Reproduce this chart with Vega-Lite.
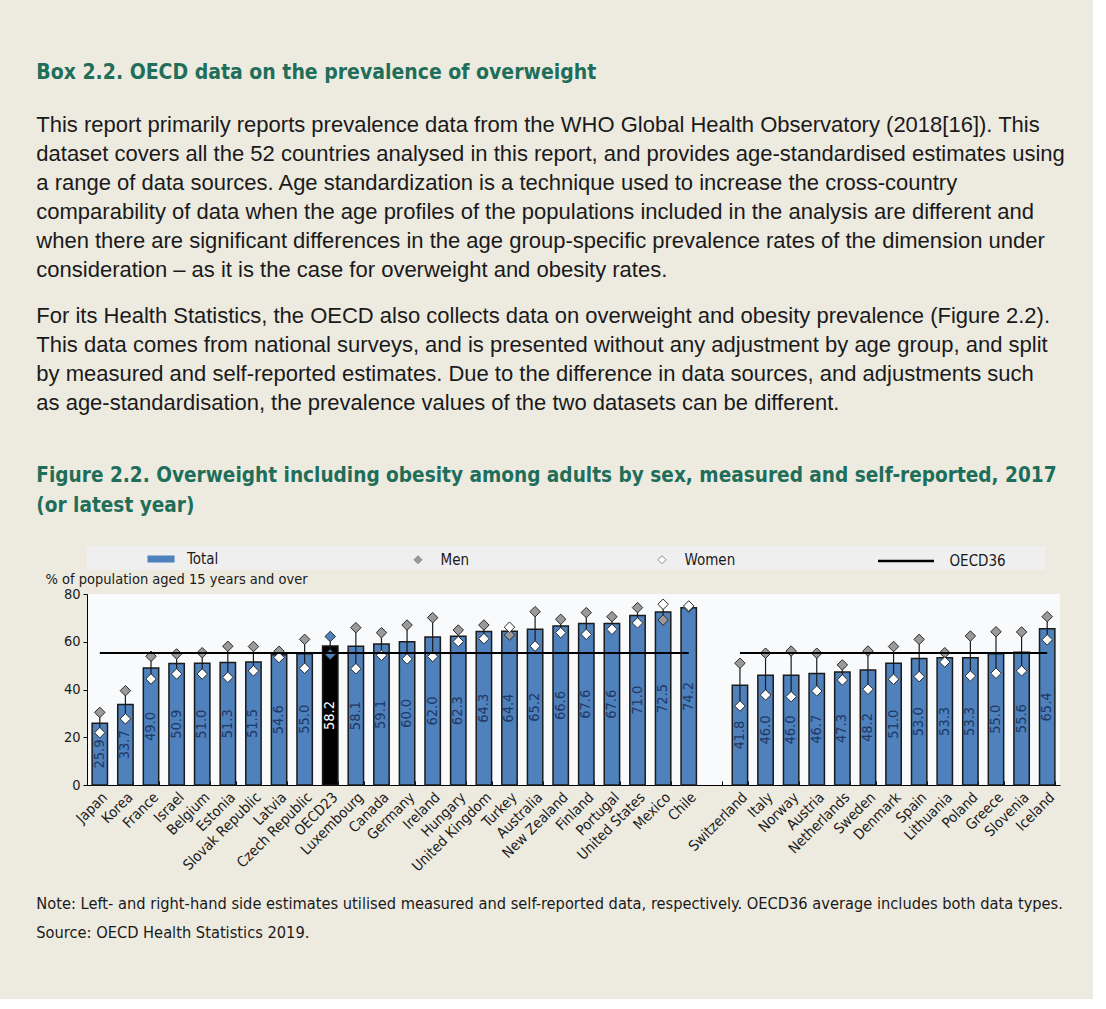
{
  "$schema": "https://vega.github.io/schema/vega-lite/v6.json",
  "background": "#edeae0",
  "padding": {"left": 36, "top": 61, "right": 28, "bottom": 57},
  "bounds": "flush",
  "spacing": 0,
  "config": {"view": {"stroke": null}, "font": "Liberation Sans"},
  "datasets": {
    "main": [
      {"country": "Japan", "total": 25.9, "men": 30.4, "women": 21.9},
      {"country": "Korea", "total": 33.7, "men": 39.5, "women": 27.7},
      {"country": "France", "total": 49.0, "men": 53.9, "women": 44.4},
      {"country": "Israel", "total": 50.9, "men": 54.9, "women": 46.5},
      {"country": "Belgium", "total": 51.0, "men": 55.4, "women": 46.5},
      {"country": "Estonia", "total": 51.3, "men": 58.1, "women": 45.1},
      {"country": "Slovak Republic", "total": 51.5, "men": 58.0, "women": 47.8},
      {"country": "Latvia", "total": 54.6, "men": 56.0, "women": 53.4},
      {"country": "Czech Republic", "total": 55.0, "men": 61.0, "women": 48.9},
      {"country": "OECD23", "total": 58.2, "men": 62.2, "women": 54.7},
      {"country": "Luxembourg", "total": 58.1, "men": 65.9, "women": 48.7},
      {"country": "Canada", "total": 59.1, "men": 63.8, "women": 54.3},
      {"country": "Germany", "total": 60.0, "men": 67.0, "women": 52.8},
      {"country": "Ireland", "total": 62.0, "men": 70.1, "women": 53.8},
      {"country": "Hungary", "total": 62.3, "men": 64.9, "women": 60.1},
      {"country": "United Kingdom", "total": 64.3, "men": 67.0, "women": 61.3},
      {"country": "Turkey", "total": 64.4, "men": 62.8, "women": 66.1},
      {"country": "Australia", "total": 65.2, "men": 72.6, "women": 58.2},
      {"country": "New Zealand", "total": 66.6, "men": 69.4, "women": 63.8},
      {"country": "Finland", "total": 67.6, "men": 72.2, "women": 63.1},
      {"country": "Portugal", "total": 67.6, "men": 70.5, "women": 65.2},
      {"country": "United States", "total": 71.0, "men": 74.3, "women": 67.9},
      {"country": "Mexico", "total": 72.5, "men": 69.1, "women": 75.7},
      {"country": "Chile", "total": 74.2, "men": 74.5, "women": 75.0},
      {"country": "Switzerland", "total": 41.8, "men": 51.0, "women": 33.1},
      {"country": "Italy", "total": 46.0, "men": 55.2, "women": 37.7},
      {"country": "Norway", "total": 46.0, "men": 56.1, "women": 37.0},
      {"country": "Austria", "total": 46.7, "men": 55.2, "women": 39.4},
      {"country": "Netherlands", "total": 47.3, "men": 50.3, "women": 44.0},
      {"country": "Sweden", "total": 48.2, "men": 56.1, "women": 40.1},
      {"country": "Denmark", "total": 51.0, "men": 58.0, "women": 44.3},
      {"country": "Spain", "total": 53.0, "men": 61.0, "women": 45.4},
      {"country": "Lithuania", "total": 53.3, "men": 55.4, "women": 51.5},
      {"country": "Poland", "total": 53.3, "men": 62.4, "women": 45.7},
      {"country": "Greece", "total": 55.0, "men": 64.2, "women": 46.8},
      {"country": "Slovenia", "total": 55.6, "men": 64.1, "women": 47.8},
      {"country": "Iceland", "total": 65.4, "men": 70.5, "women": 60.8}
    ],
    "avg": [
      {"from": "Japan", "to": "Chile", "oecd36": 55.3},
      {"from": "Switzerland", "to": "Iceland", "oecd36": 55.3}
    ]
  },
  "vconcat": [
    {
      "width": 973,
      "height": 134,
      "data": {"values": []},
      "mark": "text",
      "title": {
        "text": "Box 2.2. OECD data on the prevalence of overweight",
        "subtitle": [
          "This report primarily reports prevalence data from the WHO Global Health Observatory (2018[16]). This",
          "dataset covers all the 52 countries analysed in this report, and provides age-standardised estimates using",
          "a range of data sources. Age standardization is a technique used to increase the cross-country",
          "comparability of data when the age profiles of the populations included in the analysis are different and",
          "when there are significant differences in the age group-specific prevalence rates of the dimension under",
          "consideration – as it is the case for overweight and obesity rates."
        ],
        "anchor": "start",
        "frame": "group",
        "dx": -50.7,
        "offset": 0,
        "font": "DejaVu Sans Condensed",
        "fontSize": 21,
        "fontWeight": "bold",
        "color": "#1f6e5a",
        "subtitleFont": "Liberation Sans",
        "subtitleFontSize": 22,
        "subtitleColor": "#1a1a1a",
        "subtitleLineHeight": 29,
        "subtitlePadding": 32.3
      }
    },
    {
      "width": 973,
      "height": 131,
      "data": {"values": []},
      "mark": "text",
      "title": {
        "text": [
          "For its Health Statistics, the OECD also collects data on overweight and obesity prevalence (Figure 2.2).",
          "This data comes from national surveys, and is presented without any adjustment by age group, and split",
          "by measured and self-reported estimates. Due to the difference in data sources, and adjustments such",
          "as age-standardisation, the prevalence values of the two datasets can be different."
        ],
        "anchor": "start",
        "frame": "group",
        "dx": -50.7,
        "offset": 0,
        "font": "Liberation Sans",
        "fontSize": 22,
        "fontWeight": "normal",
        "color": "#1a1a1a",
        "lineHeight": 29
      }
    },
    {
      "width": 958,
      "height": 24,
      "view": {"fill": "#efefef", "stroke": null},
      "data": {"values": []},
      "mark": "text"
    },
    {
      "width": 973,
      "height": 24,
      "data": {"values": []},
      "mark": "text"
    },
    {
      "width": 973,
      "height": 191,
      "view": {"fill": "#f9fafb", "stroke": null},
      "title": {
        "text": [
          "Figure 2.2. Overweight including obesity among adults by sex, measured and self-reported, 2017",
          "(or latest year)"
        ],
        "anchor": "start",
        "frame": "group",
        "dx": -50.7,
        "offset": 54,
        "font": "DejaVu Sans Condensed",
        "fontSize": 20.6,
        "fontWeight": "bold",
        "color": "#1f6e5a",
        "lineHeight": 30
      },
      "data": {"name": "main"},
      "resolve": {"scale": {"y": "independent"}},
      "layer": [
        {
          "encoding": {
            "x": {
              "field": "country",
              "type": "nominal",
              "sort": null,
              "scale": {
                "domain": ["Japan","Korea","France","Israel","Belgium","Estonia","Slovak Republic","Latvia","Czech Republic","OECD23","Luxembourg","Canada","Germany","Ireland","Hungary","United Kingdom","Turkey","Australia","New Zealand","Finland","Portugal","United States","Mexico","Chile"," ","Switzerland","Italy","Norway","Austria","Netherlands","Sweden","Denmark","Spain","Lithuania","Poland","Greece","Slovenia","Iceland"],
                "paddingInner": 0.4,
                "paddingOuter": 0.2
              },
              "axis": {
                "title": null,
                "labelAngle": -45,
                "labelFont": "DejaVu Sans Condensed",
                "labelFontSize": 14.5,
                "labelColor": "#1a1a1a",
                "labelOverlap": false,
                "labelBound": false,
                "domainColor": "#000000",
                "tickColor": "#000000",
                "tickBand": "extent",
                "tickSize": -4,
                "labelPadding": 9
              }
            }
          },
          "layer": [
            {
              "mark": {"type": "bar", "stroke": "#1b1b1b", "strokeWidth": 1.5},
              "encoding": {
                "y": {
                  "field": "total",
                  "type": "quantitative",
                  "scale": {"domain": [0, 80], "nice": false},
                  "axis": {
                    "title": "% of population aged 15 years and over",
                    "values": [0, 10, 20, 30, 40, 50, 60, 70, 80],
                    "grid": false,
                    "domainColor": "#000000",
                    "tickColor": "#000000",
                    "tickSize": 4,
                    "labelPadding": 3,
                    "labelFont": "DejaVu Sans Condensed",
                    "labelFontSize": 14.5,
                    "labelColor": "#1a1a1a",
                    "titleAngle": 0,
                    "titleAlign": "left",
                    "titleBaseline": "alphabetic",
                    "titleX": -42,
                    "titleY": -11,
                    "titleFont": "DejaVu Sans Condensed",
                    "titleFontSize": 14.5,
                    "titleFontWeight": "normal",
                    "titleColor": "#1a1a1a"
                  }
                },
                "color": {
                  "condition": {"test": "datum.country === 'OECD23'", "value": "#000000"},
                  "datum": "Total",
                  "type": "nominal",
                  "scale": {"domain": ["Total"], "range": ["#4f81bd"]},
                  "legend": {
                    "title": null,
                    "orient": "none",
                    "direction": "horizontal",
                    "legendX": -2.5,
                    "legendY": 266,
                    "zindex": 1,
                    "padding": 1,
                    "symbolType": "M-1.23,-0.32H1.23V0.32H-1.23Z",
                    "symbolOffset": 64.5,
                    "symbolSize": 484,
                    "symbolStrokeWidth": 0,
                    "labelOffset": 15,
                    "labelFont": "DejaVu Sans Condensed",
                    "labelFontSize": 15,
                    "labelColor": "#1a1a1a"
                  }
                }
              }
            },
            {
              "mark": {"type": "rule", "color": "#1b1b1b", "strokeWidth": 1.2},
              "encoding": {
                "y": {"field": "men", "type": "quantitative", "scale": {"domain": [0, 80], "nice": false}},
                "y2": {"field": "women"}
              }
            },
            {
              "mark": {"type": "point", "shape": "diamond", "filled": true, "size": 110, "stroke": "#2a2a2a", "strokeWidth": 1, "opacity": 1},
              "encoding": {
                "y": {"field": "men", "type": "quantitative", "scale": {"domain": [0, 80], "nice": false}},
                "fill": {
                  "condition": {"test": "datum.country === 'OECD23'", "value": "#4f81bd"},
                  "datum": "Men",
                  "type": "nominal",
                  "scale": {"domain": ["Men", "Women"], "range": ["#9a9a9a", "#ffffff"]},
                  "legend": {
                    "title": null,
                    "orient": "none",
                    "direction": "horizontal",
                    "legendX": 323.5,
                    "legendY": 271,
                    "zindex": 1,
                    "padding": 0,
                    "symbolType": "diamond",
                    "symbolSize": 64,
                    "symbolStrokeColor": "#8a8a8a",
                    "symbolStrokeWidth": 1,
                    "labelOffset": 15,
                    "columnPadding": 185,
                    "labelFont": "DejaVu Sans Condensed",
                    "labelFontSize": 15,
                    "labelColor": "#1a1a1a"
                  }
                }
              }
            },
            {
              "mark": {"type": "point", "shape": "diamond", "filled": true, "size": 110, "stroke": "#2a2a2a", "strokeWidth": 1, "opacity": 1},
              "encoding": {
                "y": {"field": "women", "type": "quantitative", "scale": {"domain": [0, 80], "nice": false}},
                "fill": {
                  "condition": {"test": "datum.country === 'OECD23'", "value": "#4f81bd"},
                  "datum": "Women",
                  "type": "nominal"
                }
              }
            },
            {
              "data": {"name": "avg"},
              "mark": {"type": "rule", "strokeWidth": 2},
              "encoding": {
                "x": {
                  "field": "from",
                  "type": "nominal",
                  "sort": null,
                  "scale": {
                    "domain": ["Japan","Korea","France","Israel","Belgium","Estonia","Slovak Republic","Latvia","Czech Republic","OECD23","Luxembourg","Canada","Germany","Ireland","Hungary","United Kingdom","Turkey","Australia","New Zealand","Finland","Portugal","United States","Mexico","Chile"," ","Switzerland","Italy","Norway","Austria","Netherlands","Sweden","Denmark","Spain","Lithuania","Poland","Greece","Slovenia","Iceland"]
                  }
                },
                "x2": {"field": "to"},
                "y": {"field": "oecd36", "type": "quantitative", "scale": {"domain": [0, 80], "nice": false}},
                "stroke": {
                  "datum": "OECD36",
                  "type": "nominal",
                  "scale": {"domain": ["OECD36"], "range": ["#000000"]},
                  "legend": {
                    "title": null,
                    "orient": "none",
                    "direction": "horizontal",
                    "legendX": 789.5,
                    "legendY": 250.5,
                    "zindex": 1,
                    "padding": 0,
                    "symbolType": "stroke",
                    "symbolSize": 3136,
                    "symbolStrokeWidth": 2.5,
                    "labelOffset": 14,
                    "labelFont": "DejaVu Sans Condensed",
                    "labelFontSize": 15,
                    "labelColor": "#1a1a1a"
                  }
                }
              }
            }
          ]
        },
        {
          "mark": {
            "type": "text",
            "angle": 270,
            "align": "center",
            "baseline": "middle",
            "font": "DejaVu Sans Condensed",
            "fontSize": 14.5
          },
          "encoding": {
            "x": {
              "field": "country",
              "type": "nominal",
              "sort": null,
              "scale": {
                "domain": ["Japan","Korea","France","Israel","Belgium","Estonia","Slovak Republic","Latvia","Czech Republic","OECD23","Luxembourg","Canada","Germany","Ireland","Hungary","United Kingdom","Turkey","Australia","New Zealand","Finland","Portugal","United States","Mexico","Chile"," ","Switzerland","Italy","Norway","Austria","Netherlands","Sweden","Denmark","Spain","Lithuania","Poland","Greece","Slovenia","Iceland"]
              }
            },
            "y": {"field": "total", "type": "quantitative", "scale": {"domain": [0, 160], "nice": false}, "axis": null},
            "text": {"field": "total", "type": "quantitative", "format": ".1f"},
            "color": {
              "condition": {"test": "datum.country === 'OECD23'", "value": "#ffffff"},
              "value": "#1f3864"
            }
          }
        }
      ]
    },
    {
      "width": 973,
      "height": 1,
      "data": {"values": []},
      "mark": "text",
      "title": {
        "text": [
          "Note: Left- and right-hand side estimates utilised measured and self-reported data, respectively. OECD36 average includes both data types.",
          "Source: OECD Health Statistics 2019."
        ],
        "orient": "bottom",
        "anchor": "start",
        "frame": "group",
        "dx": -50.7,
        "offset": 110,
        "font": "DejaVu Sans Condensed",
        "fontSize": 16.3,
        "fontWeight": "normal",
        "color": "#1a1a1a",
        "lineHeight": 29
      }
    }
  ]
}
